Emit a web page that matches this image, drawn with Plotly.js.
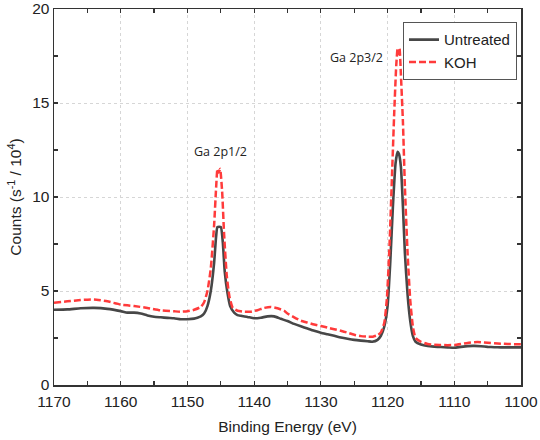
<!DOCTYPE html>
<html>
<head>
<meta charset="utf-8">
<script src="https://cdn.plot.ly/plotly-3.0.1.min.js"></script>
<style>html,body{margin:0;padding:0;background:#fff;}#chart{width:540px;height:440px;}</style>
</head>
<body>
<div id="chart"></div>
<script>
const untreatedE = [1170,1168,1166,1164,1162,1160,1159,1158,1157,1156,1155,1154,1153,1152,1151,1150,1149,1148.5,1148,1147.5,1147,1146.5,1146,1145.7,1145.5,1145,1144.7,1144.4,1144,1143.6,1143,1142.5,1142,1141,1140,1139,1138,1137,1136,1135,1134,1133,1132,1131,1130,1129,1128,1127,1126,1125,1124,1123,1122.3,1121.5,1121,1120.5,1120,1119.6,1119.2,1118.8,1118.5,1118.3,1118,1117.7,1117.4,1117,1116.6,1116.2,1115.8,1115,1114,1113,1112,1111,1110,1109,1108,1107,1106,1105,1104,1103,1102,1101,1100];
const untreatedCounts = [4.00,4.02,4.08,4.10,4.05,3.93,3.85,3.85,3.80,3.70,3.63,3.60,3.57,3.55,3.50,3.50,3.53,3.58,3.65,3.80,4.20,5.0,6.5,7.9,8.4,8.4,7.6,6.0,4.9,4.2,3.85,3.72,3.68,3.62,3.55,3.58,3.65,3.65,3.52,3.40,3.25,3.12,3.00,2.88,2.78,2.70,2.62,2.53,2.46,2.40,2.36,2.33,2.30,2.40,2.62,3.10,4.20,6.5,9.5,11.8,12.4,12.3,11.6,9.5,7.0,4.8,3.4,2.6,2.3,2.15,2.07,2.04,2.02,2.00,1.98,2.03,2.07,2.08,2.06,2.03,2.01,2.00,2.00,2.00,2.00];

const kohE = [1170,1168,1166,1164,1162,1160,1158,1156,1154,1152,1151,1150,1149,1148,1147.5,1147,1146.5,1146,1145.7,1145.5,1145.3,1145.1,1144.8,1144.5,1144.1,1143.7,1143.2,1142.5,1141.5,1140.5,1139.5,1138.5,1137.5,1136.5,1135.5,1135,1134,1133,1132,1131,1130,1129,1128,1127,1126,1125,1124,1123,1122.2,1121.5,1121,1120.5,1120.1,1119.7,1119.3,1119,1118.7,1118.5,1118.35,1118.2,1118,1117.7,1117.4,1117,1116.6,1116.2,1115.8,1115,1114,1113,1112,1111,1110,1109,1108,1107,1106,1105,1104,1103,1102,1101,1100];
const kohCounts = [4.38,4.45,4.52,4.55,4.45,4.28,4.20,4.10,3.97,3.92,3.90,3.92,4.00,4.15,4.40,5.0,6.2,8.5,10.5,11.5,11.3,11.5,10.3,8.0,5.8,4.7,4.1,3.95,3.90,3.90,3.98,4.10,4.15,4.08,3.95,3.80,3.60,3.42,3.32,3.22,3.14,3.05,2.97,2.89,2.78,2.67,2.60,2.57,2.57,2.65,2.80,3.3,4.6,7.5,11.5,14.5,17.0,17.9,17.6,17.9,16.5,14.0,10.5,7.0,4.5,3.1,2.5,2.3,2.18,2.14,2.13,2.12,2.13,2.18,2.24,2.28,2.28,2.25,2.22,2.20,2.18,2.17,2.17];

const seriesNames = ["Untreated", "KOH"];
const peakLabels = ["Ga 2p1/2", "Ga 2p3/2"];
const peakLabelE = [1145.1, 1124.6];
const peakLabelY = [12.4, 17.4];

const axisFont = {family: "Liberation Sans, Arial, sans-serif", size: 15.5, color: "#222"};

const traces = [
  {x: untreatedE, y: untreatedCounts, name: seriesNames[0], type: "scatter", mode: "lines",
   line: {color: "#474747", width: 2.6, shape: "spline", smoothing: 0.5}},
  {x: kohE, y: kohCounts, name: seriesNames[1], type: "scatter", mode: "lines",
   line: {color: "#ff3b3b", width: 2.5, dash: "7px,3px", shape: "spline", smoothing: 0.5}}
];

const layout = {
  width: 540, height: 440,
  margin: {l: 54, r: 19, t: 9, b: 55},
  paper_bgcolor: "#fff", plot_bgcolor: "#fff",
  font: axisFont,
  showlegend: true,
  legend: {x: 0.991, y: 0.965, xanchor: "right", yanchor: "top",
           bgcolor: "#fff", bordercolor: "#555", borderwidth: 1.2,
           font: {family: "Liberation Sans, Arial, sans-serif", size: 15, color: "#222"},
           tracegroupgap: 0},
  xaxis: {
    range: [1170, 1100], dtick: 10, tick0: 1100,
    ticks: "inside", ticklen: 4, tickwidth: 1.2, tickcolor: "#333",
    showline: true, linecolor: "#333", linewidth: 1.5, mirror: "ticks",
    showgrid: true, gridcolor: "#d6d6d6", griddash: "dot", gridwidth: 1,
    zeroline: false, ticklabelstandoff: 2,
    minor: {dtick: 5, ticks: "inside", ticklen: 4, tickcolor: "#333", tickwidth: 1.2, showgrid: false},
    tickfont: axisFont,
    title: {text: "Binding Energy (eV)", font: axisFont, standoff: 12}
  },
  yaxis: {
    range: [0, 20], dtick: 5,
    ticks: "inside", ticklen: 4, tickwidth: 1.2, tickcolor: "#333",
    showline: true, linecolor: "#333", linewidth: 1.5, mirror: "ticks",
    showgrid: true, gridcolor: "#d6d6d6", griddash: "dot", gridwidth: 1,
    zeroline: false,
    minor: {dtick: 2.5, ticks: "inside", ticklen: 4, tickcolor: "#333", tickwidth: 1.2, showgrid: false},
    tickfont: axisFont,
    title: {text: "Counts (s<sup>-1</sup> / 10<sup>4</sup>)", font: axisFont, standoff: 6}
  },
  annotations: peakLabels.map((t, i) => ({
    x: peakLabelE[i], y: peakLabelY[i], xref: "x", yref: "y", text: t, showarrow: false,
    font: {family: "Open Sans, Noto Sans, sans-serif", size: 12.5, color: "#222"}
  }))
};

Plotly.newPlot("chart", traces, layout, {displayModeBar: false, staticPlot: true});
</script>
</body>
</html>
